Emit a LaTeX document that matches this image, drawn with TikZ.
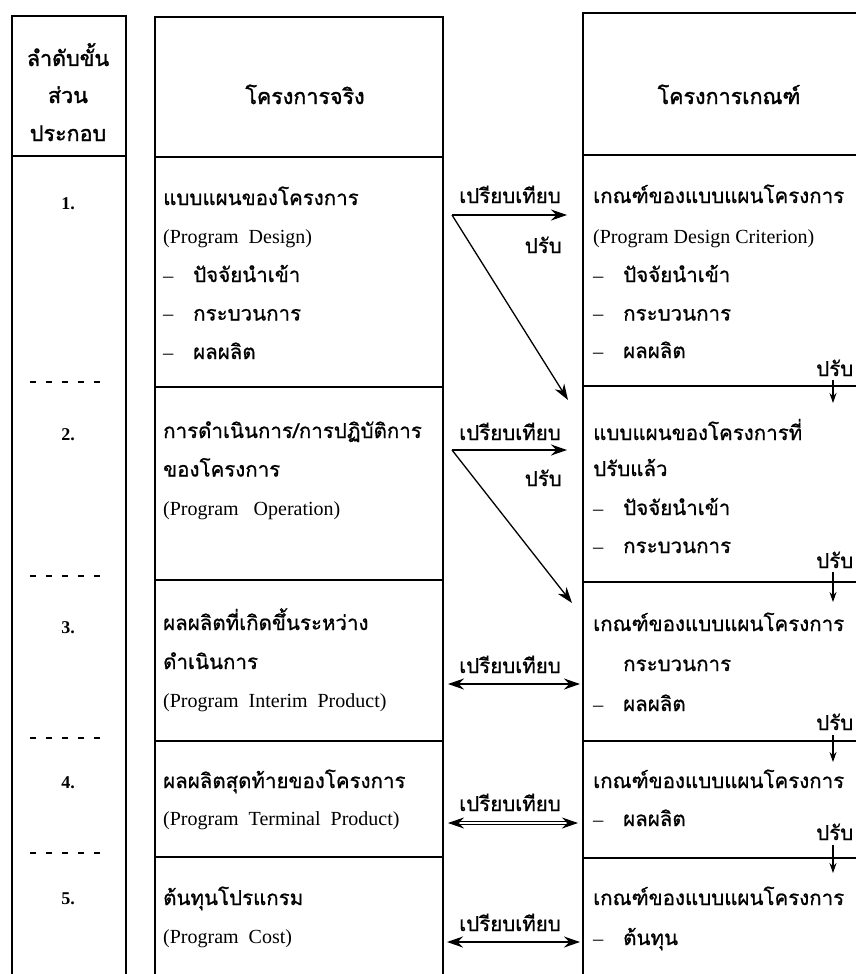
\documentclass[tikz,border=0pt]{standalone}
\usepackage{fontspec}
\setmainfont{Liberation Serif}
\newfontfamily\thai[Script=Thai, FakeBold=0.8]{Loma}
\newfontfamily\thaibf[Script=Thai, FakeBold=1.6]{Loma}
\newfontfamily\en{Liberation Serif}
\usetikzlibrary{arrows.meta}
\newcommand\dashitem[1]{\makebox[30pt][l]{\en –}#1}
\begin{document}
\begin{tikzpicture}[x=1pt,y=-1pt,
  frame/.style={line width=1.4pt},
  sep/.style={line width=1.2pt, dash pattern=on 6pt off 10pt},
  th/.style={font=\thai\fontsize{20.5}{24}\selectfont, inner sep=0pt, anchor=base west},
  thc/.style={font=\thai\fontsize{20.5}{24}\selectfont, inner sep=0pt, anchor=base},
  hd/.style={font=\thaibf\fontsize{21.5}{24}\selectfont, inner sep=0pt, anchor=base},
  eng/.style={font=\en\fontsize{20}{24}\selectfont, inner sep=0pt, anchor=base west},
  num/.style={font=\en\bfseries\fontsize{18}{20}\selectfont, inner sep=0pt, anchor=base},
  arr/.style={line width=1.3pt, -{Stealth[length=16pt,width=11pt]}},
  darr/.style={line width=1.8pt, {Stealth[length=16pt,width=11pt]}-{Stealth[length=16pt,width=11pt]}},
  dn/.style={line width=1.1pt, -{Stealth[length=10pt,width=7pt]}}
]
\useasboundingbox (0,0) rectangle (856,974);
% ---------- frames ----------
% left column
\draw[frame] (12,974) -- (12,16) -- (126,16) -- (126,974);
\draw[frame] (12,156) -- (126,156);
% middle column
\draw[frame] (155,974) -- (155,17) -- (443,17) -- (443,974);
\draw[frame] (155,157) -- (443,157);
\draw[frame] (155,387) -- (443,387);
\draw[frame] (155,580) -- (443,580);
\draw[frame] (155,741) -- (443,741);
\draw[frame] (155,857) -- (443,857);
% right column
\draw[frame] (583,974) -- (583,13) -- (856,13);
\draw[frame] (583,155) -- (856,155);
\draw[frame] (583,386) -- (856,386);
\draw[frame] (583,582) -- (856,582);
\draw[frame] (583,741) -- (856,741);
\draw[frame] (583,858) -- (856,858);
% dashed separators in left column
\draw[sep] (30,382) -- (106,382);
\draw[sep] (30,576) -- (106,576);
\draw[sep] (30,738) -- (106,738);
\draw[sep] (30,853) -- (106,853);

% ---------- headers ----------
\node[hd] (h1a) at (68,66) {ลำดับขั้น};
\node[hd] (h1b) at (68,103) {ส่วน};
\node[hd] (h1c) at (68,141) {ประกอบ};
\node[hd] (h2) at (305,104) {โครงการจริง};
\node[hd] (h3) at (729,104) {โครงการเกณฑ์};

% ---------- numbers ----------
\node[num] (n1) at (68,209) {1.};
\node[num] (n2) at (68,440) {2.};
\node[num] (n3) at (68,633) {3.};
\node[num] (n4) at (68,788) {4.};
\node[num] (n5) at (68,904) {5.};

% ---------- middle column texts ----------
\node[th]  (m1a) at (163,205)   {แบบแผนของโครงการ};
\node[eng] (m1b) at (163,243.5) {(Program\ \ Design)};
\node[th]  (m1c) at (163,282)   {\dashitem{ปัจจัยนำเข้า}};
\node[th]  (m1d) at (163,320.5) {\dashitem{กระบวนการ}};
\node[th]  (m1e) at (163,359)   {\dashitem{ผลผลิต}};

\node[th]  (m2a) at (163,438)   {การดำเนินการ/การปฏิบัติการ};
\node[th]  (m2b) at (163,476.5) {ของโครงการ};
\node[eng] (m2c) at (163,515)   {(Program\ \ \ Operation)};

\node[th]  (m3a) at (163,630) {ผลผลิตที่เกิดขึ้นระหว่าง};
\node[th]  (m3b) at (163,669) {ดำเนินการ};
\node[eng] (m3c) at (163,707) {(Program\ \ Interim\ \ Product)};

\node[th]  (m4a) at (163,788) {ผลผลิตสุดท้ายของโครงการ};
\node[eng] (m4b) at (163,825) {(Program\ \ Terminal\ \ Product)};

\node[th]  (m5a) at (163,905) {ต้นทุนโปรแกรม};
\node[eng] (m5b) at (163,943) {(Program\ \ Cost)};

% ---------- right column texts ----------
\node[th]  (r1a) at (593,203)   {เกณฑ์ของแบบแผนโครงการ};
\node[eng] (r1b) at (593,243.5) {(Program Design Criterion)};
\node[th]  (r1c) at (593,282)   {\dashitem{ปัจจัยนำเข้า}};
\node[th]  (r1d) at (593,320.5) {\dashitem{กระบวนการ}};
\node[th]  (r1e) at (593,358)   {\dashitem{ผลผลิต}};

\node[th]  (r2a) at (593,440) {แบบแผนของโครงการที่};
\node[th]  (r2b) at (593,476) {ปรับแล้ว};
\node[th]  (r2c) at (593,515) {\dashitem{ปัจจัยนำเข้า}};
\node[th]  (r2d) at (593,553) {\dashitem{กระบวนการ}};

\node[th]  (r3a) at (593,631) {เกณฑ์ของแบบแผนโครงการ};
\node[th]  (r3b) at (623,671) {กระบวนการ};
\node[th]  (r3c) at (593,711) {\dashitem{ผลผลิต}};

\node[th]  (r4a) at (593,788) {เกณฑ์ของแบบแผนโครงการ};
\node[th]  (r4b) at (593,826) {\dashitem{ผลผลิต}};

\node[th]  (r5a) at (593,905) {เกณฑ์ของแบบแผนโครงการ};
\node[th]  (r5b) at (593,945) {\dashitem{ต้นทุน}};

% ---------- right side "adjust" arrows ----------
\node[th] (a1) at (816,376) {ปรับ};
\node[th] (a2) at (816,568) {ปรับ};
\node[th] (a3) at (816,730) {ปรับ};
\node[th] (a4) at (816,840) {ปรับ};
\coordinate (a1s) at (833,380); \coordinate (a1e) at (833,403);
\coordinate (a2s) at (833,572); \coordinate (a2e) at (833,602);
\coordinate (a3s) at (833,735); \coordinate (a3e) at (833,762);
\coordinate (a4s) at (833,845); \coordinate (a4e) at (833,873);
\draw[dn] (a1s) -- (a1e);
\draw[dn] (a2s) -- (a2e);
\draw[dn] (a3s) -- (a3e);
\draw[dn] (a4s) -- (a4e);

% ---------- middle comparison arrows ----------
\node[thc] (c1) at (510,203) {เปรียบเทียบ};
\node[thc] (c2) at (510,440) {เปรียบเทียบ};
\node[thc] (c3) at (510,673) {เปรียบเทียบ};
\node[thc] (c4) at (510,811) {เปรียบเทียบ};
\node[thc] (c5) at (510,931) {เปรียบเทียบ};
\node[th, anchor=base east] (p1) at (562,253) {ปรับ};
\node[th, anchor=base east] (p2) at (562,486) {ปรับ};

\coordinate (o1) at (452,215);
\coordinate (t1) at (567,215);
\coordinate (d1) at (568,400);
\draw[arr] (o1) -- (t1);
\draw[line width=2.6pt] (485,215) -- (553,215);
\draw[arr] (o1) -- (d1);

\coordinate (o2) at (452,450);
\coordinate (t2) at (567,450);
\coordinate (d2) at (572,603);
\draw[arr] (o2) -- (t2);
\draw[arr] (o2) -- (d2);

\coordinate (l3) at (448,684); \coordinate (e3) at (580,684);
\draw[darr] (l3) -- (e3);
\coordinate (l4) at (448,823); \coordinate (e4) at (578,823);
\draw[darr, line width=0.9pt, double, double distance=1.6pt] (l4) -- (e4);
\coordinate (l5) at (447,942); \coordinate (e5) at (580,942);
\draw[darr] (l5) -- (e5);
\end{tikzpicture}
\end{document}
